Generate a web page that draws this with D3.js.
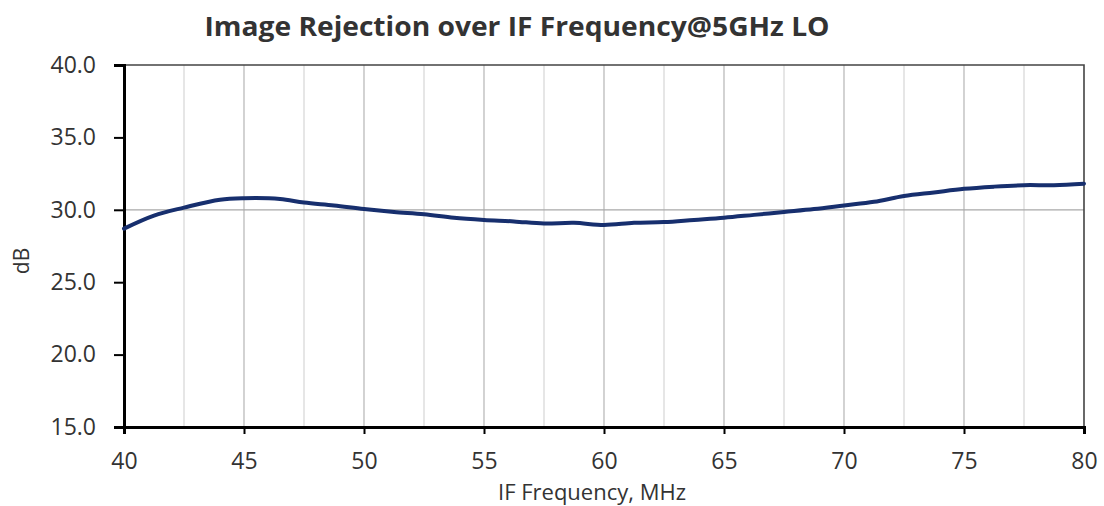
<!DOCTYPE html>
<html>
<head>
<meta charset="utf-8">
<script src="https://cdn.jsdelivr.net/npm/d3@7"></script>
<style>
  body { margin: 0; background: #fff; }
  text { font-family: "Open Sans", "Noto Sans", sans-serif; fill: #333; }
</style>
</head>
<body>
<div id="chart"></div>
<script>
// IF frequency (MHz) and image rejection (dB)
var freqs = [40, 41.25, 42.5, 44, 45, 46.5, 47.5, 48.75, 50, 51.25, 52.5, 53.75, 55, 56.25, 57.5, 58.75, 60, 61.25, 62.5, 63.75, 65, 66.25, 67.5, 68.75, 70, 71.25, 72.5, 73.75, 75, 76.25, 77.5, 78.75, 80];
var rejection = [28.7, 29.6, 30.15, 30.7, 30.8, 30.75, 30.5, 30.3, 30.05, 29.85, 29.7, 29.45, 29.3, 29.2, 29.05, 29.1, 28.95, 29.1, 29.15, 29.3, 29.45, 29.65, 29.85, 30.05, 30.3, 30.55, 30.95, 31.2, 31.45, 31.6, 31.7, 31.7, 31.8];
var xTicks = [40, 45, 50, 55, 60, 65, 70, 75, 80];
var xGrid = [42.5, 45, 47.5, 50, 52.5, 55, 57.5, 60, 62.5, 65, 67.5, 70, 72.5, 75, 77.5];
var yTicks = [15, 20, 25, 30, 35, 40];

var width = 1104, height = 506;
var margin = {top: 65, right: 20, bottom: 79, left: 124};

var svg = d3.select('#chart').append('svg')
    .attr('width', width)
    .attr('height', height);

var x = d3.scaleLinear().domain([40, 80]).range([margin.left, width - margin.right]);
var y = d3.scaleLinear().domain([15, 40]).range([height - margin.bottom, margin.top]);

// vertical grid, darker on the 5 MHz lines
svg.append('g').selectAll('line')
    .data(xGrid)
    .enter().append('line')
    .attr('x1', d => x(d)).attr('x2', d => x(d))
    .attr('y1', y(40)).attr('y2', y(15))
    .attr('stroke', d => d % 5 === 0 ? '#b5b5b5' : '#d6d6d6')
    .attr('stroke-width', 1.2);

// single horizontal gridline at 30 dB
svg.append('line')
    .attr('x1', x(40)).attr('x2', x(80))
    .attr('y1', y(30)).attr('y2', y(30))
    .attr('stroke', '#a8a8a8')
    .attr('stroke-width', 1.2);

// top and right frame
svg.append('path')
    .attr('d', 'M' + x(40) + ',' + y(40) + 'H' + x(80) + 'V' + y(15))
    .attr('fill', 'none')
    .attr('stroke', '#444')
    .attr('stroke-width', 1.6);

var xAxis = svg.append('g')
    .attr('transform', 'translate(0,' + y(15) + ')')
    .call(d3.axisBottom(x).tickValues(xTicks).tickSize(7).tickPadding(19));
xAxis.select('.domain').attr('stroke', '#000').attr('stroke-width', 3);
xAxis.selectAll('.tick line').attr('stroke', '#000').attr('stroke-width', 2);
xAxis.selectAll('.tick text')
    .style('font-size', '23px')
    .style('font-family', '"Open Sans", sans-serif')
    .attr('fill', '#333');

var yAxis = svg.append('g')
    .attr('transform', 'translate(' + x(40) + ',0)')
    .call(d3.axisLeft(y).tickValues(yTicks).tickSize(10).tickPadding(18).tickFormat(d3.format('.1f')));
yAxis.select('.domain').attr('stroke', '#000').attr('stroke-width', 3);
yAxis.selectAll('.tick line').attr('stroke', '#000').attr('stroke-width', 2);
yAxis.selectAll('.tick text')
    .style('font-size', '23px')
    .style('font-family', '"Open Sans", sans-serif')
    .attr('fill', '#333');

// data line
var line = d3.line()
    .curve(d3.curveCatmullRom)
    .x((d, i) => x(freqs[i]))
    .y(d => y(d));

svg.append('path')
    .attr('d', line(rejection))
    .attr('fill', 'none')
    .attr('stroke', '#172f6e')
    .attr('stroke-width', 4)
    .attr('stroke-linejoin', 'round')
    .attr('stroke-linecap', 'round');

// titles
svg.append('text')
    .attr('x', 517).attr('y', 36)
    .attr('text-anchor', 'middle')
    .attr('textLength', 625)
    .attr('lengthAdjust', 'spacingAndGlyphs')
    .style('font-size', '26px')
    .style('font-weight', 'bold')
    .attr('fill', '#111')
    .text('Image Rejection over IF Frequency@5GHz LO');

svg.append('text')
    .attr('x', 592).attr('y', 500)
    .attr('text-anchor', 'middle')
    .style('font-size', '22px')
    .text('IF Frequency, MHz');

svg.append('text')
    .attr('transform', 'translate(29,261) rotate(-90)')
    .attr('text-anchor', 'middle')
    .style('font-size', '21px')
    .text('dB');
</script>
</body>
</html>
